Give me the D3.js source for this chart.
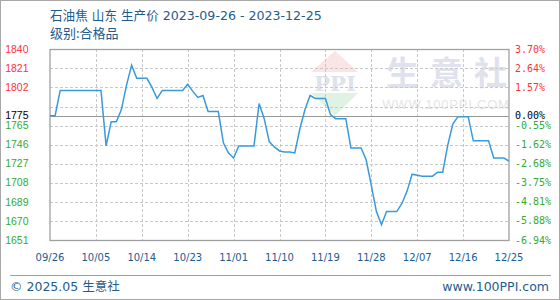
<!DOCTYPE html>
<meta charset="utf-8">
<script src="https://d3js.org/d3.v7.min.js"></script>
<style>
body { margin: 0; background: #fff; }
svg { display: block; font-family: "Liberation Sans", Arial, sans-serif; }
.grid line { stroke: #c8c8c8; stroke-dasharray: 3,2; shape-rendering: crispEdges; }
</style>
<body>
<script>

// daily prices, 2023-09-26 .. 2023-12-25
var prices = [1775,1775,1800,1800,1800,1800,1800,1800,1800,1800,
  1800,1745,1769,1769,1781,1805,1825,1812,1812,1812,
  1803,1792,1800,1800,1800,1800,1800,1806,1799,1793,
  1795,1779,1779,1779,1748,1738,1733,1745,1745,1745,
  1745,1787,1772,1749,1744,1740,1739,1739,1738,1762,
  1781,1795,1792,1792,1792,1776,1772,1772,1772,1743,
  1743,1743,1731,1706,1680,1667,1680,1680,1680,1688,
  1700,1717,1716,1715,1715,1715,1719,1719,1746,1767,
  1774,1774,1774,1750,1750,1750,1750,1733,1733,1733,1730];

var xLabels = ["09/26","10/05","10/14","10/23","11/01","11/10","11/19","11/28","12/07","12/16","12/25"];
var leftLabels = ["1651","1670","1689","1708","1727","1746","1765","","1802","1821","1840"];
var rightLabels = ["-6.94%","-5.88%","-4.81%","-3.75%","-2.68%","-1.62%","-0.55%","","1.57%","2.64%","3.70%"];
var baseValue = 1775;
var yMin = 1651.8, yMax = 1840.7;

var width = 560, height = 300;
var plotL = 50, plotR = 509, plotT = 49.3, plotB = 240;

var start = new Date(2023, 8, 26);
var days = d3.timeDay.range(start, d3.timeDay.offset(start, prices.length));
var data = days.map(function(d, i) { return {date: d, value: prices[i]}; });

var x = d3.scaleTime()
    .domain([days[0], days[days.length - 1]])
    .range([plotL, plotR]);

var y = d3.scaleLinear()
    .domain([yMin, yMax])
    .range([plotB, plotT]);

var tickVals = d3.range(11).map(function(i) { return yMin + i * (yMax - yMin) / 10; });
var xTicks = xLabels.map(function(s, i) { return days[i * 9]; });

var svg = d3.select("body").append("svg")
    .attr("width", width)
    .attr("height", height);

// outer frame
svg.append("rect")
    .attr("x", 0.5).attr("y", 0.5)
    .attr("width", width - 1).attr("height", height - 1)
    .attr("fill", "#fff").attr("stroke", "#a8a8a8");

// watermark
var wm = svg.append("g");
wm.append("path")
    .attr("d", "M311,72 L335,51 L358,72 Z")
    .attr("fill", "#fbe4e4");
wm.append("text")
    .attr("x", 335).attr("y", 91)
    .attr("text-anchor", "middle")
    .attr("font-family", "DejaVu Serif, serif")
    .attr("font-weight", "bold")
    .attr("font-size", 21)
    .attr("fill", "#dde2ec")
    .text("PPI");
wm.append("path")
    .attr("d", "M311,93 L358,93 L335,116 Z")
    .attr("fill", "#e0f2e2");
wm.append("text")
    .attr("x", 386).attr("y", 85)
    .attr("font-family", "Noto Sans CJK SC")
    .attr("font-weight", "bold")
    .attr("font-size", 33)
    .attr("letter-spacing", 11)
    .attr("fill", "#dfe2ec")
    .text("生意社");
wm.append("text")
    .attr("x", 446).attr("y", 109)
    .attr("text-anchor", "middle")
    .attr("font-size", 13)
    .attr("letter-spacing", 0.8)
    .attr("fill", "#e4e4e4")
    .text("WWW.100PPI.COM");

// grid
var grid = svg.append("g").attr("class", "grid");
grid.selectAll(".hg")
    .data(tickVals.slice(1, -1))
    .enter().append("line")
    .attr("x1", plotL).attr("x2", plotR)
    .attr("y1", function(d) { return Math.round(y(d)) + 0.5; })
    .attr("y2", function(d) { return Math.round(y(d)) + 0.5; });
grid.selectAll(".vg")
    .data(xTicks.slice(1, -1))
    .enter().append("line")
    .attr("y1", plotT).attr("y2", plotB)
    .attr("x1", function(d) { return Math.round(x(d)) + 0.5; })
    .attr("x2", function(d) { return Math.round(x(d)) + 0.5; });

// base line
svg.append("line")
    .attr("x1", plotL).attr("x2", plotR)
    .attr("y1", Math.round(y(baseValue)) + 0.5)
    .attr("y2", Math.round(y(baseValue)) + 0.5)
    .attr("stroke", "#999").attr("stroke-width", 1.2);

// plot frame
svg.append("rect")
    .attr("x", plotL).attr("y", Math.round(plotT) + 0.5)
    .attr("width", plotR - plotL).attr("height", plotB - Math.round(plotT))
    .attr("fill", "none").attr("stroke", "#a0a0a0").attr("stroke-width", 1.3);

// price line
var line = d3.line()
    .x(function(d) { return x(d.date); })
    .y(function(d) { return y(d.value); });

svg.append("path")
    .datum(data)
    .attr("d", line)
    .attr("fill", "none")
    .attr("stroke", "#3a9ad9")
    .attr("stroke-width", 1.5);

function tickColor(v) {
    return v > baseValue ? "#ff3333" : "#33aa33";
}

// left labels
svg.selectAll(".yl")
    .data(tickVals)
    .enter().append("text")
    .attr("x", 28.5)
    .attr("y", function(d) { return y(d); })
    .attr("dy", "0.35em")
    .attr("text-anchor", "end")
    .attr("font-size", 10.5)
    .attr("fill", tickColor)
    .text(function(d, i) { return leftLabels[i]; });
svg.append("text")
    .attr("x", 28.5).attr("y", y(baseValue)).attr("dy", "0.35em")
    .attr("text-anchor", "end").attr("font-size", 10.5)
    .attr("fill", "#000").text(baseValue);

// right labels
svg.selectAll(".yr")
    .data(tickVals)
    .enter().append("text")
    .attr("x", 515)
    .attr("y", function(d) { return y(d); })
    .attr("dy", "0.35em")
    .attr("font-family", "DejaVu Sans Mono, monospace")
    .attr("font-size", 10)
    .attr("fill", tickColor)
    .text(function(d, i) { return rightLabels[i]; });
svg.append("text")
    .attr("x", 515).attr("y", y(baseValue)).attr("dy", "0.35em")
    .attr("font-family", "DejaVu Sans Mono, monospace").attr("font-size", 10)
    .attr("fill", "#000").text("0.00%");

// x labels
svg.selectAll(".xl")
    .data(xTicks)
    .enter().append("text")
    .attr("x", function(d) { return x(d); })
    .attr("y", 261)
    .attr("text-anchor", "middle")
    .attr("font-family", "DejaVu Sans, sans-serif")
    .attr("font-size", 10)
    .attr("fill", "#1e5b8e")
    .text(function(d, i) { return xLabels[i]; });

// title
svg.append("text")
    .attr("x", 50).attr("y", 20)
    .attr("font-family", "DejaVu Sans, Noto Sans CJK SC")
    .attr("font-size", 12.6)
    .attr("fill", "#1e5b8e")
    .text("石油焦 山东 生产价 2023-09-26 - 2023-12-25");
svg.append("text")
    .attr("x", 50).attr("y", 38)
    .attr("font-family", "Noto Sans CJK SC")
    .attr("font-size", 13)
    .attr("fill", "#1e5b8e")
    .text("级别:合格品");

// footer
svg.append("line")
    .attr("x1", 10).attr("x2", 551)
    .attr("y1", 275.5).attr("y2", 275.5)
    .attr("stroke", "#a0a0a0");
svg.append("text")
    .attr("x", 10).attr("y", 291)
    .attr("font-family", "DejaVu Sans, Noto Sans CJK SC")
    .attr("font-size", 12.5)
    .attr("fill", "#1e5b8e")
    .text("© 2025.05 生意社");
svg.append("text")
    .attr("x", 549).attr("y", 291)
    .attr("text-anchor", "end")
    .attr("font-family", "DejaVu Sans, sans-serif")
    .attr("font-size", 12.5)
    .attr("fill", "#1e5b8e")
    .text("www.100PPI.com");

</script>
</body>
</html>
